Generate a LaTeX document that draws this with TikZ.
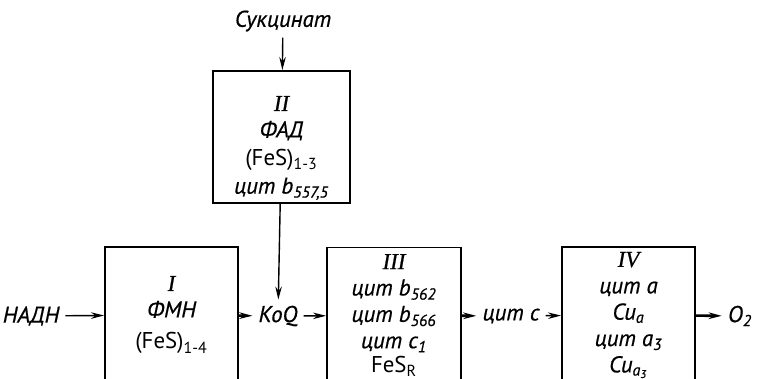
\documentclass[tikz,border=0pt]{standalone}
\usepackage{fontspec}
\setmainfont{PT Sans}[ItalicFeatures={FakeBold=0.6}]
\newfontfamily\romfont{Liberation Serif}[FakeBold=0.6]
\usetikzlibrary{arrows.meta, positioning}
\newcommand{\ind}[1]{\textsubscript{#1}}
\newcommand{\rom}[1]{{\romfont\itshape #1}}

\begin{document}
\begin{tikzpicture}[x=0.2mm, y=-0.2mm,
    every node/.style={font=\fontsize{13}{15}\selectfont\itshape},
    kompleks/.style={draw, line width=1.1pt, rectangle, align=center,
                     inner sep=0pt},
    strelka/.style={-{Stealth[length=2.6mm, width=1.3mm]}, line width=0.8pt},
    tolstaya/.style={strelka, line width=1.5pt}]

    % Рамка рисунка
    \clip (0,0) rectangle (766,379);

    % Комплекс II (сукцинатдегидрогеназа)
    \node (suc) at (283,21) {Сукцинат};
    \node[kompleks, minimum width=137*0.2mm, minimum height=132*0.2mm,
          text height=68pt]
      (k2) at (281.5,137)
      {\rom{II}\\ФАД\\[1pt]{\upshape (FeS)\ind{1-3}}\\[1pt]цит b\ind{557,5}};

    % Комплексы I, III, IV (низ срезан рамкой)
    \node[kompleks, minimum width=133*0.2mm, minimum height=136*0.2mm]
      (k1) at (171.5,315)
      {\rom{I}\\ФМН\\[3pt]{\upshape (FeS)\ind{1-4}}};
    \node[kompleks, minimum width=134*0.2mm, minimum height=136*0.2mm]
      (k3) at (394,315.5)
      {\rom{III}\\цит b\ind{562}\\цит b\ind{566}\\цит c\ind{1}\\[-1pt]{\upshape FeS\ind{R}}};
    \node[kompleks, minimum width=133*0.2mm, minimum height=136*0.2mm]
      (k4) at (628.5,315)
      {\rom{IV}\\цит a\\Cu\ind{a}\\цит a\ind{3}\\Cu\ind{a\ind{3}}};

    % Переносчики между комплексами
    \node (nadh) at (31,316) {НАДН};
    \node (koq) at (278,316) {КоQ};
    \node (citc) at (511,316) {цит c};
    \node (o2) at (740,316) {O\ind{2}};

    % Поток электронов
    \draw[strelka] (suc) -- (k2);
    \draw[strelka] (k2) -- (koq);
    \draw[strelka] (nadh) -- (k1);
    \draw[tolstaya] (k1) -- (koq);
    \draw[strelka] (koq) -- (k3);
    \draw[tolstaya] (k3) -- (citc);
    \draw[strelka] (citc) -- (k4);
    \draw[tolstaya] (k4) -- (o2);

\end{tikzpicture}
\end{document}
